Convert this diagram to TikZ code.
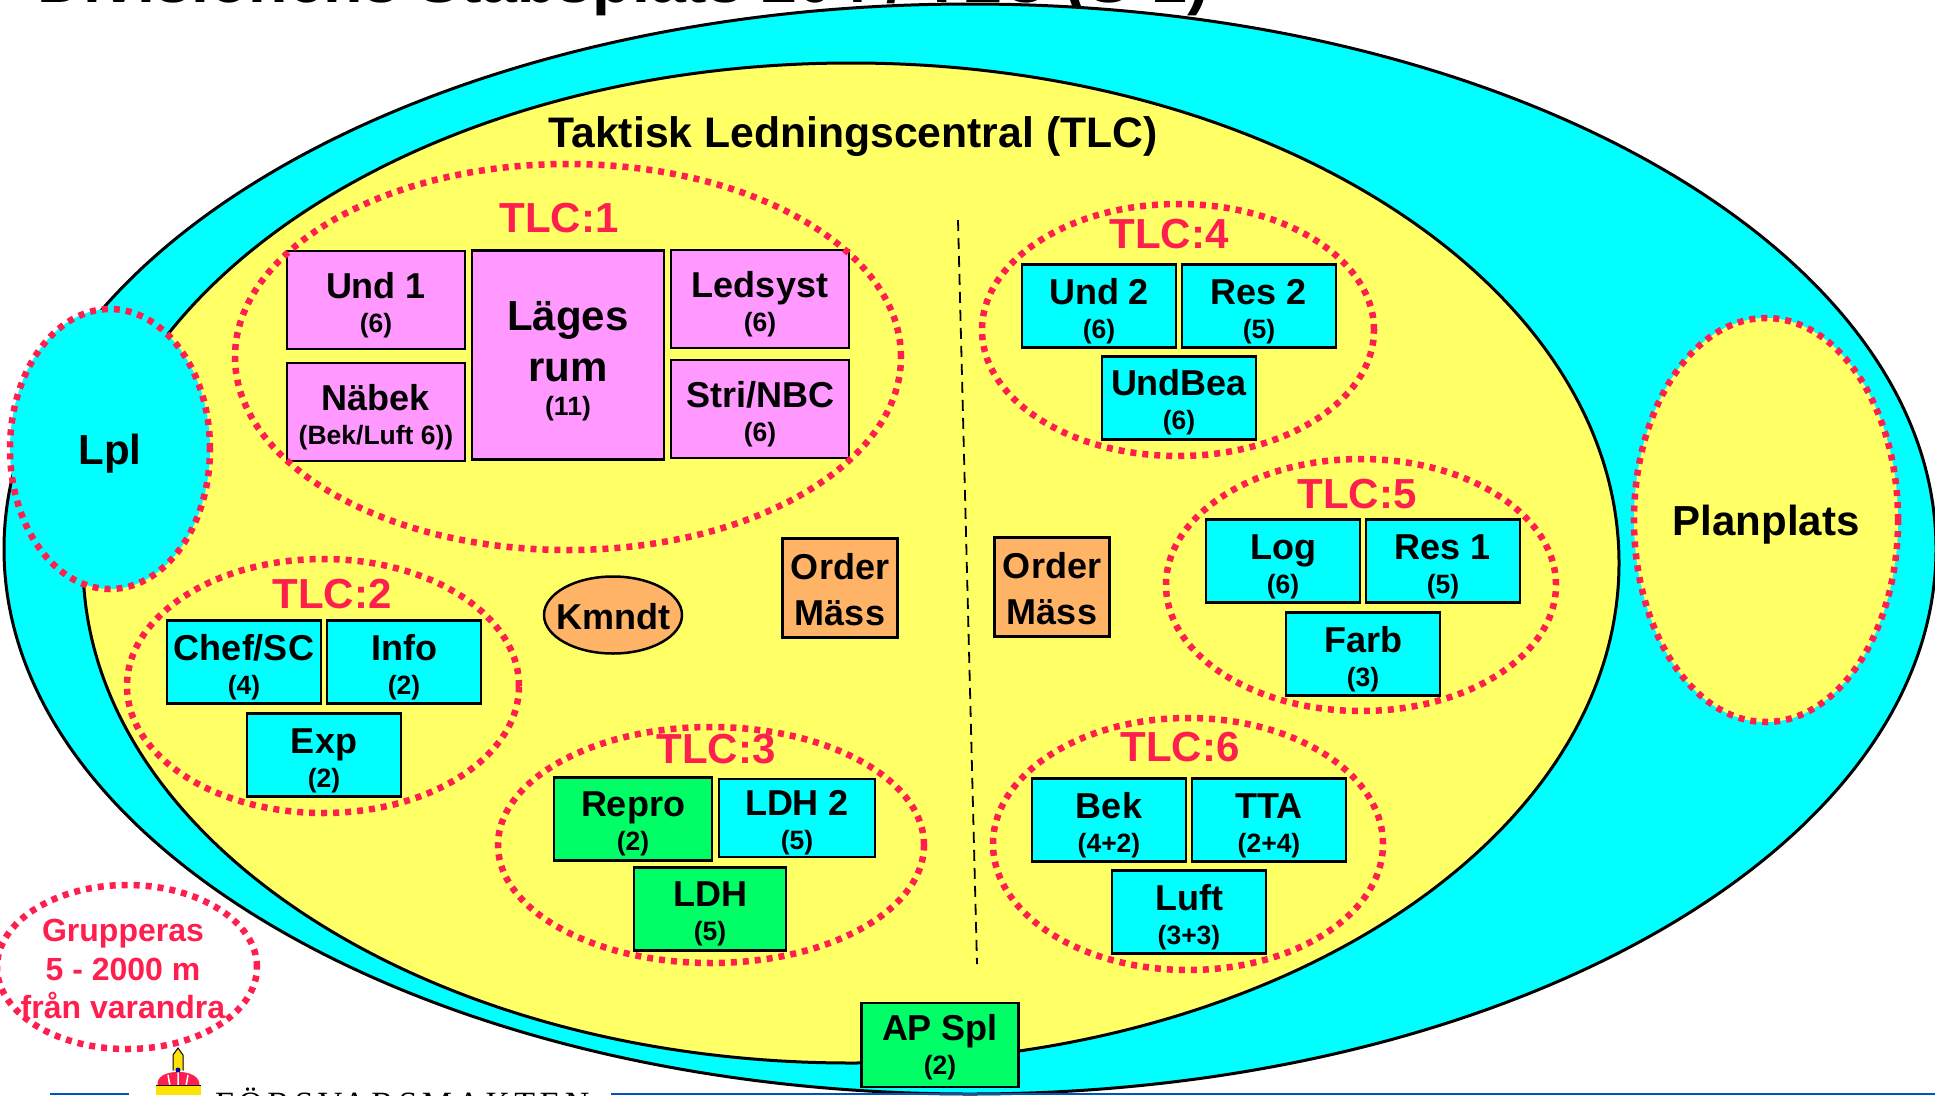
\documentclass[tikz,border=0pt]{standalone}
\usepackage{fontspec}
\setmainfont{Liberation Sans}
\newfontfamily\crestfont[LetterSpace=13]{Liberation Serif}
\usepackage{tikz}
\usetikzlibrary{shapes.geometric}
\usetikzlibrary{positioning}
\definecolor{sky}{HTML}{00FFFF}
\definecolor{sand}{HTML}{FFFF66}
\definecolor{rose}{HTML}{FF99FF}
\definecolor{leaf}{HTML}{00FF66}
\definecolor{peach}{HTML}{FFB366}
\definecolor{ringred}{HTML}{FF1F4F}
\definecolor{rule}{HTML}{0055BB}
\newcommand{\cnt}[1]{{\fontsize{26.5}{27}\selectfont #1}}
\newcommand{\lift}[1]{\rule{0pt}{#1pt}}
\tikzset{
  boxnode/.style = {align=center, inner sep=0pt, text centered, font=\bfseries\fontsize{36}{34}\selectfont},
  unit_node/.style = {boxnode, rectangle, draw=black, line width=2.5pt},
  cyan_node/.style = {unit_node, fill=sky, minimum width=154pt, minimum height=83pt},
  green_node/.style = {unit_node, fill=leaf, minimum width=154pt, minimum height=83pt},
  pink_node/.style = {unit_node, fill=rose, minimum width=178pt, minimum height=98pt},
  order_node/.style = {unit_node, fill=peach, minimum width=115pt, minimum height=99pt,
    font=\bfseries\fontsize{36}{46}\selectfont},
  zone_node/.style = {ellipse, draw=black, line width=3pt, inner sep=0pt},
  ring_node/.style = {ellipse, draw=ringred, line width=6.5pt, dash pattern=on 6pt off 6pt, inner sep=0pt},
  ring_label/.style = {inner sep=0pt, text=ringred, font=\bfseries\fontsize{42}{46}\selectfont}
}
\begin{document}
\begin{tikzpicture}[x=1pt, y=-1pt]
  \useasboundingbox (0,0) rectangle (1935,1095);
  \node [inner sep=0pt, anchor=base west, font=\bfseries\fontsize{64.5}{68}\selectfont] (title) at (37,2) {Divisionens Stabsplats 204 / TLC (S-1)};
  % zones
  \node [zone_node, fill=sky, minimum width=1932pt, minimum height=1090pt] (outer) at (970,549) {};
  \node [zone_node, fill=sand, minimum width=1536pt, minimum height=1000pt] (tlc) at (851,563) {};
  \node [inner sep=0pt, anchor=base, font=\bfseries\fontsize{42.7}{46}\selectfont] (tlcname) at (853,147) {Taktisk Ledningscentral (TLC)};
  \node [ring_node, fill=sky, minimum width=200pt, minimum height=280pt, text depth=0pt, font=\bfseries\fontsize{42}{46}\selectfont] (lpl) at (110,449) {Lpl};
  \node [ring_node, fill=sand, minimum width=262pt, minimum height=404pt, text depth=0pt, font=\bfseries\fontsize{42}{46}\selectfont] (plan) at (1766,520) {Planplats};
  \coordinate (split_top) at (958,220);
  \coordinate (split_end) at (977,964);
  \draw [dashed, line width=1.8pt, dash pattern=on 11pt off 7pt] (split_top) -- (split_end);
  % TLC:1
  \node [pink_node] (und1) at (376,300) {\lift{37}Und 1\\\cnt{(6)}};
  \node [pink_node, below=11.5pt of und1] (nabek) {\lift{37}Näbek\\\cnt{(Bek/Luft 6))}};
  \node [pink_node, minimum width=192pt, minimum height=209pt, font=\bfseries\fontsize{42}{51}\selectfont] (lages) at (568,355) {\lift{42}Läges\\rum\\[-17pt]\cnt{(11)}};
  \node [pink_node] (ledsyst) at (760,299) {\lift{37}Ledsyst\\\cnt{(6)}};
  \node [pink_node, below=9.5pt of ledsyst] (stri) {\lift{37}Stri/NBC\\\cnt{(6)}};
  % TLC:2
  \node [cyan_node] (chef) at (244,662) {\lift{36}Chef/SC\\\cnt{(4)}};
  \node [cyan_node, right=3.5pt of chef] (info) {\lift{36}Info\\\cnt{(2)}};
  \node [cyan_node] (exp) at (324,755) {\lift{36}Exp\\\cnt{(2)}};
  % TLC:3
  \node [green_node, minimum width=158pt] (repro) at (633,819) {\lift{34}Repro\\\cnt{(2)}};
  \node [cyan_node, minimum width=156pt, minimum height=78pt] (ldh2) at (797,818) {\lift{34}LDH 2\\\cnt{(5)}};
  \node [green_node, minimum width=152pt] (ldh) at (710,909) {\lift{34}LDH\\\cnt{(5)}};
  % TLC:4
  \node [cyan_node] (und2) at (1099,306) {\lift{36}Und 2\\\cnt{(6)}};
  \node [cyan_node, right=3.5pt of und2] (res2) {\lift{36}Res 2\\\cnt{(5)}};
  \node [cyan_node] (undbea) at (1179,398) {\lift{35}UndBea\\\cnt{(6)}};
  % TLC:5
  \node [cyan_node] (logi) at (1283,561) {\lift{36}Log\\\cnt{(6)}};
  \node [cyan_node, right=3.5pt of logi] (res1) {\lift{36}Res 1\\\cnt{(5)}};
  \node [cyan_node] (farb) at (1363,654) {\lift{36}Farb\\\cnt{(3)}};
  % TLC:6
  \node [cyan_node] (bek) at (1109,820) {\lift{36}Bek\\\cnt{(4+2)}};
  \node [cyan_node, right=3.5pt of bek] (tta) {\lift{36}TTA\\\cnt{(2+4)}};
  \node [cyan_node] (luft) at (1189,912) {\lift{36}Luft\\\cnt{(3+3)}};
  % staff
  \node [ellipse, draw=black, line width=2.5pt, fill=peach, inner sep=0pt, minimum width=138pt, minimum height=77pt] (kmndt) at (613,615) {};
  \node [boxnode] (kmndtname) at (613,617) {Kmndt};
  \node [order_node] (order1) at (840,588) {\lift{30}Order\\Mäss};
  \node [order_node] (order2) at (1052,587) {\lift{30}Order\\Mäss};
  \node [green_node, minimum width=157pt, minimum height=84pt] (apspl) at (940,1045) {\lift{31}AP Spl\\\cnt{(2)}};
  % rings
  \node [ring_node, minimum width=666pt, minimum height=386pt] (ring1) at (568,357) {};
  \node [ring_node, minimum width=392pt, minimum height=254pt] (ring2) at (323,686) {};
  \node [ring_node, minimum width=426pt, minimum height=236pt] (ring3) at (711,845) {};
  \node [ring_node, minimum width=392pt, minimum height=252pt] (ring4) at (1178,330) {};
  \node [ring_node, minimum width=390pt, minimum height=252pt] (ring5) at (1361,585) {};
  \node [ring_node, minimum width=390pt, minimum height=252pt] (ring6) at (1188,844) {};
  \node [ring_label] (lab1) at (559,218) {TLC:1};
  \node [ring_label] (lab2) at (332,594) {TLC:2};
  \node [ring_label] (lab3) at (716,749) {TLC:3};
  \node [ring_label] (lab4) at (1169,234) {TLC:4};
  \node [ring_label] (lab5) at (1357,494) {TLC:5};
  \node [ring_label] (lab6) at (1180,747) {TLC:6};
  \node [ring_node, minimum width=260pt, minimum height=164pt] (ring7) at (127,967) {};
  \node [inner sep=0pt, text=ringred, align=center, font=\bfseries\fontsize{32}{38.5}\selectfont] (spread) at (123,969) {Grupperas\\5 - 2000 m\\från varandra};
  % crest and rule
  \fill [rule] (50,1093) rectangle (129,1095);
  \fill [rule] (611,1093) rectangle (1935,1095);
  \draw [fill=yellow!85!orange, line width=1pt] (173,1072) -- (173,1055) -- (178,1048) -- (183,1055) -- (183,1072) -- cycle;
  \draw [fill=ringred, draw=white, line width=1.5pt] (157,1086) .. controls (152,1066) and (204,1066) .. (200,1086) -- cycle;
  \draw [white, line width=1.5pt] (178,1072) -- (178,1086) (168,1075) -- (170,1086) (188,1075) -- (186,1086);
  \fill [blue!70!black] (178,1070) circle (2.5);
  \fill [yellow!85!orange] (156,1085) rectangle (201,1095);
  \draw [black, line width=1pt] (156,1085) -- (201,1085);
  \node [inner sep=0pt, anchor=base west, font=\crestfont\fontsize{34}{38}\selectfont] (crestname) at (215,1115) {FÖRSVARSMAKTEN};
\end{tikzpicture}
\end{document}
